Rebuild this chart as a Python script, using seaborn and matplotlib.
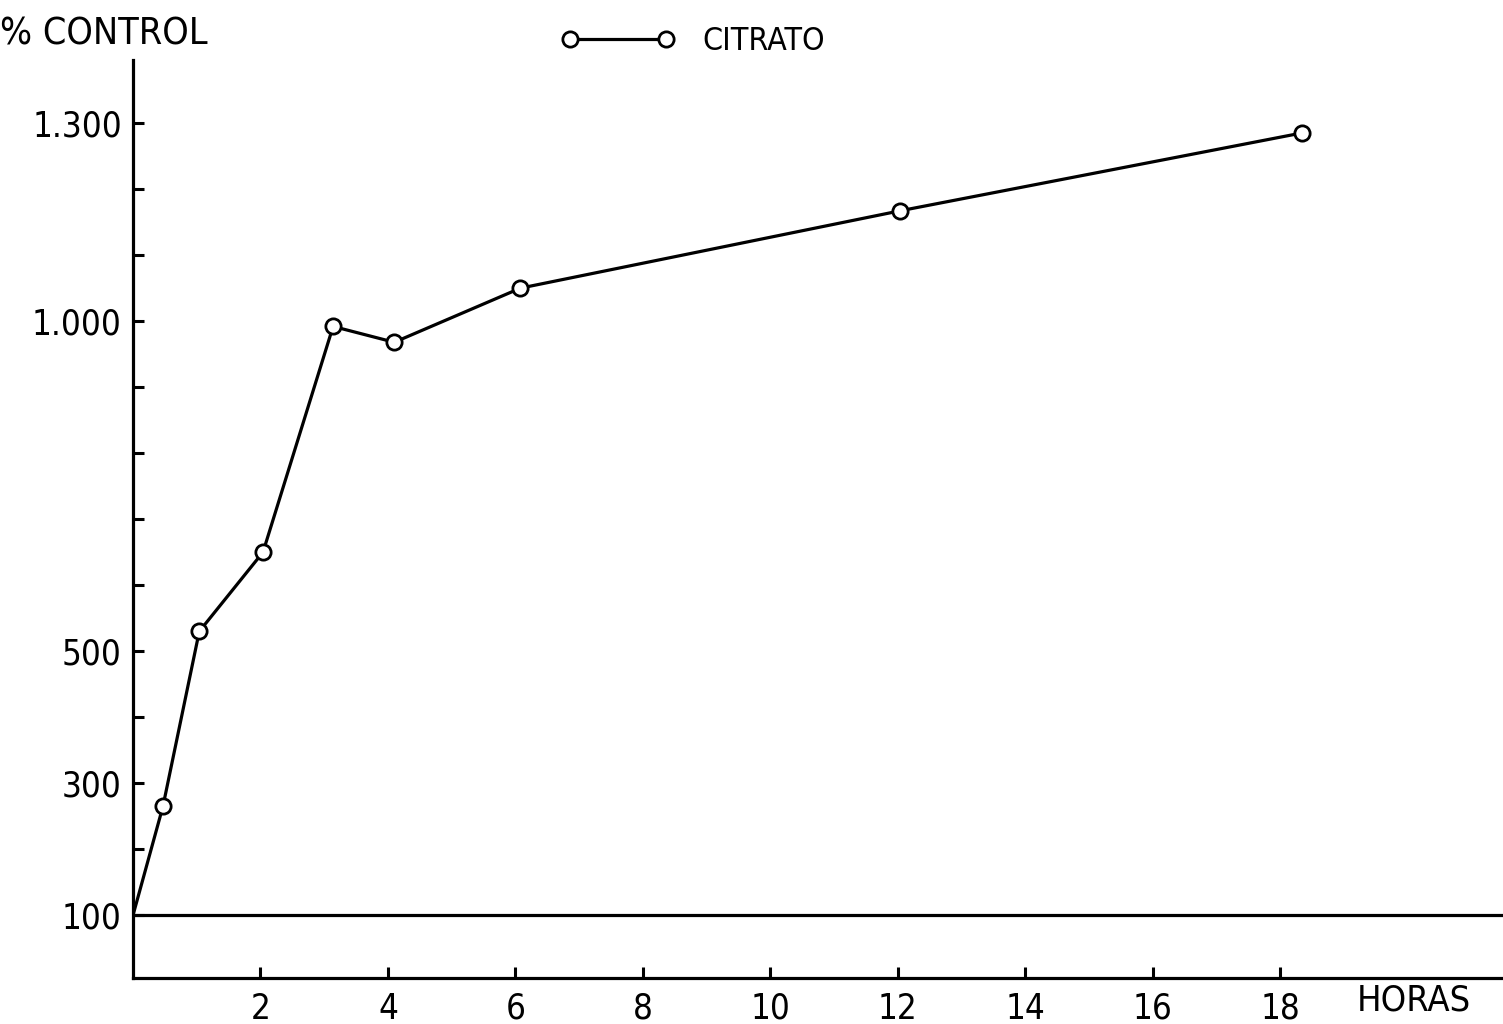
import numpy as np
import pandas as pd
import seaborn as sns
import matplotlib.pyplot as plt
from matplotlib.lines import Line2D

# values
horas = [0, 0.47, 1.04, 2.04, 3.14, 4.1, 6.08, 12.03, 18.34]
control = [100, 265, 530, 650, 992, 968, 1050, 1167, 1285]
serie = "CITRATO"

xticks = [2, 4, 6, 8, 10, 12, 14, 16, 18]
yticks = list(range(100, 1400, 100))
ylabels = {100: "100", 300: "300", 500: "500", 1000: "1.000", 1300: "1.300"}

df = pd.DataFrame({"horas": horas, "control": control})

sns.set_style("white")
plt.rcParams['font.family'] = ['DejaVu Sans']
plt.rcParams['font.stretch'] = 'condensed'
plt.rcParams['text.color'] = 'black'

fig = plt.figure(figsize=(15.03, 10.24), dpi=100)
ax = fig.add_axes([0.0885, 0.045, 0.9115, 0.896])

ax.axhline(100, color="black", lw=2.3, zorder=1)

sns.lineplot(data=df, x="horas", y="control", ax=ax, color="black", lw=2.3,
             marker="o", markersize=11, markerfacecolor="white",
             markeredgecolor="black", markeredgewidth=2,
             markevery=list(range(1, len(horas))), sort=False, zorder=3)

ax.set_xlim(0, 21.5)
ax.set_ylim(5, 1395)
ax.set_xticks(xticks)
ax.set_xticklabels([str(t) for t in xticks])
ax.set_yticks(yticks)
ax.set_yticklabels([ylabels.get(t, "") for t in yticks])
ax.set_xlabel("")
ax.set_ylabel("")

for s in ["top", "right"]:
    ax.spines[s].set_visible(False)
for s in ["left", "bottom"]:
    ax.spines[s].set_color("black")
    ax.spines[s].set_linewidth(2.3)

ax.tick_params(axis="both", direction="in", length=8, width=2.2, colors="black",
               labelsize=25, bottom=True, left=True)
ax.tick_params(axis="y", pad=8)
ax.tick_params(axis="x", pad=10)

fig.text(0.0, 0.966, "% CONTROL", fontsize=27, va="center", ha="left")
fig.text(0.903, 0.023, "HORAS", fontsize=26, va="center", ha="left")

handle = Line2D([], [], color="black", lw=2.3, marker="o", markersize=11,
                markerfacecolor="white", markeredgecolor="black", markeredgewidth=2)
fig.legend([handle], [serie], loc="center", bbox_to_anchor=(0.461, 0.959),
           numpoints=2, handlelength=3.6, handletextpad=0.85, frameon=False,
           fontsize=23)

fig.savefig("out.png", dpi=100)
